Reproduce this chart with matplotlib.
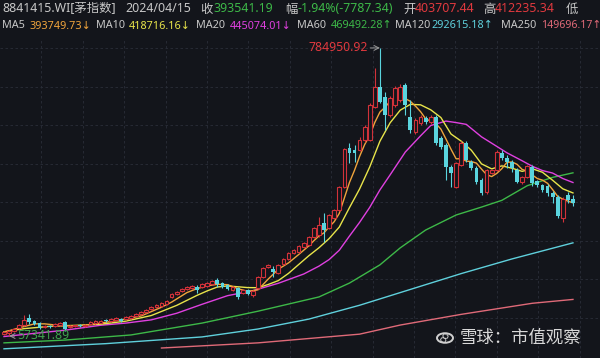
import matplotlib
matplotlib.use("Agg")
import matplotlib.pyplot as plt
from matplotlib.patches import Circle
import numpy as np

plt.rcParams['font.family'] = ['Noto Sans', 'DejaVu Sans', 'Noto Sans CJK SC']

BG = '#13151b'
RED = '#d2323a'
CYAN = '#5ad4de'
GRID = '#2a2e38'

# candles, values in thousands of index points
opens = [63, 65, 70, 77, 85, 103, 95, 90, 80, 83, 83, 85, 93, 80, 82, 85, 82, 88, 90, 91,
         98, 95, 98, 100, 100, 103, 108, 113, 118, 125, 131, 133, 138, 156, 163, 171, 176, 179, 181, 181,
         184, 189, 199, 191, 186, 174, 179, 166, 174, 161, 179, 206, 232, 227, 217, 239, 252, 267, 270, 282,
         287, 307, 312, 343, 330, 355, 376, 434, 532, 527, 527, 552, 552, 636, 686, 661, 616, 641, 654, 691,
         611, 573, 595, 608, 598, 611, 557, 540, 484, 434, 489, 545, 497, 482, 451, 421, 469, 477, 520, 507,
         497, 477, 446, 459, 484, 449, 439, 436, 419, 408, 355, 413, 403.71]
highs = [70, 72, 78, 88, 110, 113, 98, 92, 86, 86, 90, 93, 95, 85, 86, 87, 88, 95, 97, 98,
         100, 102, 105, 102, 108, 110, 115, 120, 125, 133, 138, 143, 148, 166, 171, 179, 184, 187, 186, 191,
         194, 199, 204, 193, 188, 184, 181, 176, 176, 174, 209, 232, 239, 234, 239, 254, 269, 277, 287, 295,
         310, 333, 358, 368, 366, 378, 437, 532, 545, 540, 560, 590, 646, 734, 784.95, 674, 664, 689, 694, 697,
         654, 608, 616, 613, 616, 616, 563, 545, 489, 497, 550, 550, 502, 486, 456, 479, 480, 527, 527, 514,
         502, 482, 462, 490, 489, 451, 441, 441, 424, 413, 408, 421, 412.24]
lows = [59, 57.34, 67, 75, 83, 88, 85, 75, 77, 78, 81, 83, 70, 78, 80, 80, 80, 86, 88, 89,
        93, 93, 96, 93, 98, 101, 106, 111, 116, 123, 129, 131, 136, 153, 160, 168, 173, 176, 166, 178,
        181, 186, 181, 178, 173, 171, 151, 163, 160, 156, 176, 204, 229, 206, 214, 237, 249, 264, 267, 280,
        285, 305, 307, 295, 327, 353, 373, 431, 494, 497, 525, 547, 550, 633, 646, 577, 611, 636, 648, 616,
        570, 568, 590, 593, 593, 540, 530, 451, 434, 431, 487, 497, 477, 441, 414, 416, 466, 474, 502, 482,
        472, 444, 441, 456, 436, 434, 421, 411, 393, 355, 345, 393, 386]
closes = [67, 70, 75, 85, 98, 93, 88, 78, 83, 80, 88, 90, 75, 83, 84, 82, 86, 93, 95, 95,
          95, 100, 103, 95, 105, 108, 113, 118, 123, 131, 136, 141, 146, 163, 168, 176, 181, 184, 174, 189,
          191, 196, 189, 181, 176, 181, 156, 174, 163, 171, 206, 229, 237, 219, 237, 252, 267, 275, 285, 292,
          307, 330, 338, 325, 363, 376, 434, 530, 520, 520, 552, 585, 641, 686, 649, 616, 659, 684, 686, 641,
          578, 603, 611, 598, 611, 545, 535, 484, 469, 494, 545, 502, 482, 446, 419, 477, 477, 522, 507, 497,
          482, 446, 459, 487, 444, 439, 426, 419, 408, 360, 403, 401, 393.54]

# moving averages (candle index, value)
ma5_x = [0, 3, 6, 8, 11, 15, 19, 23, 27, 31, 33, 35, 36, 38, 40, 42, 44, 46, 48, 50, 52, 54, 56, 58,
         60, 61, 62, 63, 64, 65, 66, 67, 68, 69, 70, 71, 72, 73, 74, 75, 76, 77, 78, 79, 80, 81, 82, 83,
         84, 85, 86, 87, 88, 89, 90, 91, 92, 93, 94, 95, 96, 97, 98, 99, 100, 101, 102, 103, 104, 105,
         106, 107, 108, 109, 110, 111, 112]
ma5_v = [67, 78, 88, 88, 84, 83, 90, 98, 108, 130, 143, 159, 167, 177, 184, 188, 187, 177, 170, 174,
         201, 226, 242, 263, 285, 298, 310, 318, 333, 346, 367, 406, 445, 476, 511, 541, 564, 597, 623,
         635, 650, 659, 659, 657, 650, 638, 624, 606, 600, 594, 580, 555, 529, 505, 505, 499, 498, 494,
         479, 465, 460, 468, 480, 496, 497, 491, 478, 474, 464, 455, 451, 443, 427, 410, 403, 398, 393.75]
ma10_x = [0, 4, 9, 14, 19, 24, 29, 34, 38, 40, 42, 44, 46, 48, 50, 52, 54, 56, 58, 60, 62, 64, 66,
          68, 70, 72, 74, 76, 78, 80, 82, 84, 86, 88, 90, 92, 94, 96, 98, 100, 102, 104, 106, 108,
          110, 112]
ma10_v = [68, 76, 81.7, 84.2, 87.1, 94.9, 109.1, 134.7, 160, 171.3, 181.1, 183.7, 181.7, 179.6, 179.3,
          187.4, 197.3, 215.5, 237.8, 260, 280.2, 303.4, 332.5, 381.5, 428.8, 484.6, 549.3, 595.8, 627.8,
          642.5, 641.3, 628.7, 609.2, 567.5, 549.5, 526.5, 492.1, 479.5, 487.1, 481.1, 473.2, 479.8,
          470.9, 450.7, 429.1, 418.72]
ma20_x = [0, 6, 12, 19, 24, 29, 34, 39, 44, 49, 54, 59, 62, 64, 66, 68, 70, 72, 74, 76, 79, 82, 84,
          87, 89, 91, 94, 97, 99, 102, 104, 106, 108, 110, 112]
ma20_v = [56, 64, 72, 84.4, 90, 98.1, 114.8, 137.5, 159.2, 171.8, 190.5, 213.9, 233.8, 250.4, 274,
          309.7, 344.4, 382.4, 426.4, 464.2, 522.1, 563, 589, 600.2, 596.4, 591.9, 560.4, 536.3, 520.1,
          499.9, 486, 475.2, 468.9, 455.1, 445.07]
ma60_x = [0, 12, 25, 39, 50, 62, 68, 74, 78, 83, 89, 94, 98, 103, 108, 112]
ma60_v = [40, 47, 60, 90, 120, 156, 191, 237, 280, 325, 363, 383, 400, 437, 458, 469.49]
ma120_x = [0, 20, 39, 50, 60, 70, 80, 90, 100, 112]
ma120_v = [25, 38, 55, 75, 100, 135, 175, 215, 252, 292.62]
ma250_x = [31, 50, 70, 78, 90, 104, 112]
ma250_v = [27, 40, 62, 85, 112, 140, 149.70]

ma_lines = [(ma250_x, ma250_v, '#e06a78'), (ma120_x, ma120_v, '#5fd0dc'),
            (ma60_x, ma60_v, '#3db848'), (ma20_x, ma20_v, '#e040e0'),
            (ma10_x, ma10_v, '#e8e44a'), (ma5_x, ma5_v, '#f0a43c')]

W, H = 600, 358
fig = plt.figure(figsize=(6, 3.58), dpi=100, facecolor=BG)
ax = fig.add_axes([0, 0, 1, 318 / H])
ax.set_facecolor(BG)
step = 5.08
ax.set_xlim(-4 / step, (W - 4) / step)
ax.set_ylim(1.77, 805.0)
for s in ax.spines.values():
    s.set_visible(False)
ax.set_xticks([])
ax.set_yticks([])

# dashed grid
for k in range(1, 15):
    ax.axvline((41.4 * k - 4) / step, color=GRID, lw=0.6, ls=(0, (3, 3)), zorder=0)
for k in range(8):
    ax.axhline(102.8 + 97.27 * k, color=GRID, lw=0.6, ls=(0, (3, 3)), zorder=0)

# moving averages
for xs, vs, c in ma_lines:
    ax.plot(xs, vs, color=c, lw=1.0, zorder=2)

o = np.array(opens)
c = np.array(closes)
h = np.array(highs)
l = np.array(lows)
x = np.arange(len(c))
up = c >= o
dn = ~up

ax.vlines(x[up], l[up], h[up], color=RED, lw=0.8, zorder=3)
ax.vlines(x[dn], l[dn], h[dn], color=CYAN, lw=0.8, zorder=3)
ax.bar(x[up], np.maximum(c[up] - o[up], 1.5), bottom=o[up], width=0.72,
       facecolor=BG, edgecolor=RED, lw=0.8, zorder=4)
ax.bar(x[dn], np.maximum(o[dn] - c[dn], 1.5), bottom=c[dn], width=0.76,
       color=CYAN, lw=0, zorder=4)

# high / low labels
ax.annotate('784950.92', xy=(74, 784.95), xytext=(-9, 0), textcoords='offset points',
            ha='right', va='center', color='#e0393e', fontsize=8.8,
            arrowprops=dict(arrowstyle='->', color='#9a9a9a', lw=0.7, shrinkA=0, shrinkB=0))
ax.annotate('57341.89', xy=(1, 57.34), xytext=(6, 0), textcoords='offset points',
            ha='left', va='center', color='#3fa34d', fontsize=8.8,
            arrowprops=dict(arrowstyle='->', color='#9a9a9a', lw=0.7, shrinkA=0, shrinkB=0))

# header
GRAY = '#c8c8c8'


def put(px, py, s, color=GRAY, size=8.9):
    fig.text(px / W, 1 - py / H, s, color=color, fontsize=size, ha='left', va='center')


put(2, 9, '8841415.WI[茅指数]')
put(125, 9, '2024/04/15')
put(200, 9, '收')
put(213, 9, '393541.19', '#3db848')
put(285, 9, '幅')
put(298, 9, '-1.94%(-7787.34)', '#3db848')
put(403, 9, '开')
put(415, 9, '403707.44', '#e0393e')
put(483, 9, '高')
put(495, 9, '412235.34', '#e0393e')
put(566, 9, '低')

put(2, 26, 'MA5', size=7.8)
put(29, 26, '393749.73↓', '#f0a43c', 7.8)
put(96, 26, 'MA10', size=7.8)
put(129, 26, '418716.16↓', '#e8e44a', 7.8)
put(196, 26, 'MA20', size=7.8)
put(230, 26, '445074.01↓', '#e040e0', 7.8)
put(297, 26, 'MA60', size=7.8)
put(331, 26, '469492.28↑', '#3db848', 7.8)
put(395, 26, 'MA120', size=7.8)
put(431, 26, '292615.18↑', '#5fd0dc', 7.8)
put(501, 26, 'MA250', size=7.8)
put(541, 26, '149696.17↑', '#e06a78', 7.6)

# watermark
fig.patches.append(Circle((445 / W, 1 - 338 / H), 8 / W, transform=fig.transFigure,
                          fill=False, edgecolor='#d0d0d0', lw=1.4))
fig.text(445 / W, 1 - 338 / H, 'ꝏ', color='#d0d0d0', fontsize=8, ha='center', va='center',
         rotation=60, family=['DejaVu Sans'])
fig.text(460 / W, 1 - 338 / H, '雪球：市值观察', color='#d8d8d8', fontsize=12.5,
         family=['Noto Sans CJK SC'], ha='left', va='center')

fig.savefig('out.png', dpi=100, facecolor=BG)
